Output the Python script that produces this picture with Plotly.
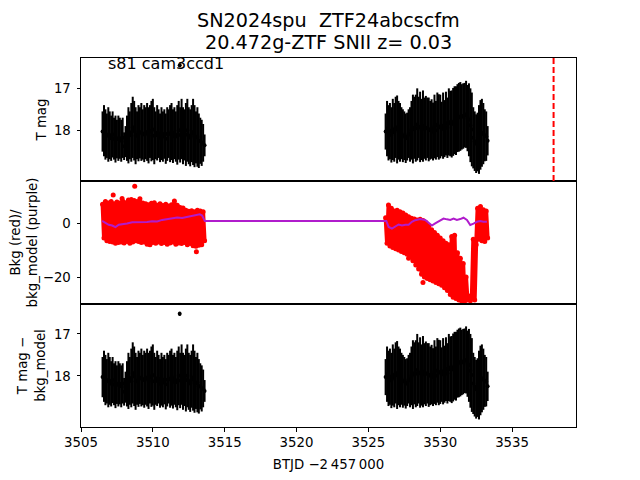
import plotly.graph_objects as go
from plotly.subplots import make_subplots

# ---------------- data ----------------
# cadence times, segment 1 and segment 2 (BTJD - 2457000)
t1 = [3506.5, 3506.6, 3506.7, 3506.8, 3506.9, 3507.0, 3507.1, 3507.2, 3507.3, 3507.4,
      3507.5, 3507.6, 3507.7, 3507.8, 3507.9, 3508.0, 3508.1, 3508.2, 3508.3, 3508.4,
      3508.5, 3508.6, 3508.7, 3508.8, 3508.9, 3509.0, 3509.1, 3509.2, 3509.3, 3509.4,
      3509.5, 3509.6, 3509.7, 3509.8, 3509.9, 3510.0, 3510.1, 3510.2, 3510.3, 3510.4,
      3510.5, 3510.6, 3510.7, 3510.8, 3510.9, 3511.0, 3511.1, 3511.2, 3511.3, 3511.4,
      3511.5, 3511.6, 3511.7, 3511.8, 3511.9, 3512.0, 3512.1, 3512.2, 3512.3, 3512.4,
      3512.5, 3512.6, 3512.7, 3512.8, 3512.9, 3513.0, 3513.1, 3513.2, 3513.3, 3513.4,
      3513.5, 3513.6]
t2 = [3526.2, 3526.3, 3526.4, 3526.5, 3526.6, 3526.7, 3526.8, 3526.9, 3527.0, 3527.1,
      3527.2, 3527.3, 3527.4, 3527.5, 3527.6, 3527.7, 3527.8, 3527.9, 3528.0, 3528.1,
      3528.2, 3528.3, 3528.4, 3528.5, 3528.6, 3528.7, 3528.8, 3528.9, 3529.0, 3529.1,
      3529.2, 3529.3, 3529.4, 3529.5, 3529.6, 3529.7, 3529.8, 3529.9, 3530.0, 3530.1,
      3530.2, 3530.3, 3530.4, 3530.5, 3530.6, 3530.7, 3530.8, 3530.9, 3531.0, 3531.1,
      3531.2, 3531.3, 3531.4, 3531.5, 3531.6, 3531.7, 3531.8, 3531.9, 3532.0, 3532.1,
      3532.2, 3532.3, 3532.4, 3532.5, 3532.6, 3532.7, 3532.8, 3532.9, 3533.0, 3533.1,
      3533.2, 3533.3]

# TESS magnitude and its error
tmag1 = [18.03, 18.01, 18.10, 18.13, 18.10, 18.12, 18.19, 18.10, 18.20, 18.21,
         18.21, 18.19, 18.19, 18.25, 18.18, 18.38, 18.27, 18.19, 18.12, 18.12,
         18.05, 17.93, 18.01, 18.13, 18.12, 18.07, 18.06, 18.04, 18.10, 18.08,
         18.07, 18.04, 18.12, 18.03, 18.02, 17.98, 18.13, 18.12, 18.06, 18.08,
         18.18, 18.08, 18.15, 18.09, 18.20, 18.09, 18.08, 18.08, 18.03, 18.14,
         18.07, 18.15, 18.11, 18.00, 18.11, 17.97, 18.13, 18.11, 18.10, 18.00,
         18.13, 18.18, 18.08, 18.04, 18.14, 18.17, 18.16, 18.25, 18.25, 18.30,
         18.30, 18.36]
terr1 = [0.48, 0.61, 0.60, 0.53, 0.65, 0.57, 0.54, 0.55, 0.50, 0.56,
         0.46, 0.54, 0.49, 0.50, 0.48, 0.33, 0.37, 0.54, 0.67, 0.57,
         0.70, 0.73, 0.71, 0.68, 0.57, 0.67, 0.61, 0.69, 0.60, 0.68,
         0.62, 0.69, 0.67, 0.63, 0.72, 0.73, 0.68, 0.57, 0.66, 0.58,
         0.58, 0.63, 0.60, 0.59, 0.60, 0.64, 0.58, 0.68, 0.68, 0.64,
         0.62, 0.60, 0.71, 0.70, 0.66, 0.72, 0.68, 0.61, 0.75, 0.75,
         0.68, 0.68, 0.68, 0.79, 0.74, 0.62, 0.71, 0.65, 0.55, 0.55,
         0.45, 0.26]
tmag2 = [18.03, 17.96, 18.06, 18.02, 18.11, 17.98, 18.05, 17.93, 17.98, 18.00,
         18.05, 18.07, 18.13, 18.13, 18.19, 18.15, 18.08, 18.10, 18.00, 17.97,
         17.94, 17.95, 17.86, 17.93, 17.92, 17.98, 17.90, 17.95, 17.95, 17.94,
         17.98, 18.00, 17.97, 18.03, 17.91, 18.00, 17.87, 17.92, 17.91, 17.97,
         17.89, 17.96, 17.84, 17.94, 17.80, 17.84, 17.85, 17.80, 17.76, 17.77,
         17.71, 17.69, 17.67, 17.68, 17.66, 17.64, 17.62, 17.71, 17.75, 17.88,
         17.98, 18.18, 18.26, 18.32, 18.28, 18.22, 18.11, 18.06, 18.08, 18.12,
         18.14, 18.25]
terr2 = [0.43, 0.66, 0.66, 0.67, 0.66, 0.73, 0.70, 0.73, 0.81, 0.70,
         0.70, 0.62, 0.63, 0.58, 0.59, 0.57, 0.58, 0.65, 0.70, 0.82,
         0.74, 0.80, 0.86, 0.73, 0.84, 0.73, 0.85, 0.73, 0.77, 0.72,
         0.76, 0.70, 0.71, 0.69, 0.76, 0.70, 0.77, 0.78, 0.76, 0.65,
         0.79, 0.68, 0.76, 0.72, 0.80, 0.78, 0.80, 0.81, 0.81, 0.82,
         0.81, 0.82, 0.82, 0.78, 0.78, 0.77, 0.80, 0.79, 0.87, 0.88,
         0.88, 0.73, 0.71, 0.70, 0.70, 0.82, 0.83, 0.81, 0.73, 0.62,
         0.59, 0.35]
# isolated bright point
tmag_out_t = [3511.87]
tmag_out = [16.45]
tmag_sub_out = [16.52]
tmag_out_err = [0.05]

# background flux (red)
bkg1 = [7.0, -5.5, 8.0, -6.5, 7.5, -6.8, 8.0, -7.0, 7.2, -7.5,
        7.8, -7.2, 7.5, -7.0, 8.2, -7.4, 7.6, -6.8, 8.6, -7.5,
        8.8, -7.0, 8.4, -6.5, 8.0, -6.8, 9.0, -7.2, 7.5, -7.0,
        7.2, -7.8, 6.8, -8.0, 7.4, -7.2, 7.6, -7.5, 6.6, -7.0,
        7.2, -7.6, 6.5, -7.2, 7.0, -7.8, 6.4, -7.4, 6.8, -7.0,
        8.2, -7.8, 6.6, -7.4, 5.8, -7.6, 5.6, -7.2, 4.8, -8.0,
        4.4, -7.6, 4.6, -8.4, 4.2, -8.6, 4.8, -8.2, 4.5, -8.0,
        4.2, -6.5]
bkg2 = [2.0, -7.5, 6.7, -8.5, 5.5, -9.0, 4.5, -9.5, 4.8, -10.0,
        4.2, -10.5, 3.8, -11.0, 3.0, -11.5, 2.4, -12.5, 1.8, -14.0,
        1.5, -15.5, 1.2, -17.0, 1.4, -19.0, 1.0, -20.0, 0.2, -20.5,
        -1.0, -21.0, -2.5, -21.5, -3.5, -22.0, -4.5, -22.5, -5.5, -23.0,
        -6.5, -24.0, -7.5, -25.0, -8.0, -26.5, -5.0, -27.5, -4.5, -28.0,
        -11.0, -28.5, -13.0, -29.0, -15.0, -29.0, -20.0, -28.5, -27.0, -28.8,
        -27.5, -6.0, -28.5, -8.0, 5.5, -6.0, 6.2, -6.5, 5.0, -6.8,
        4.5, -5.5]
bkg_out_t = [3507.24, 3507.86, 3508.74, 3513.03, 3527.80, 3528.80]
bkg_out = [10.4, 9.1, 13.7, -10.6, -13.0, -22.0]

# background model (purple)
bkgm_t = [3506.47, 3506.70, 3506.93, 3507.17, 3507.40, 3507.63, 3507.86, 3508.21, 3508.56,
          3508.91, 3509.26, 3509.60, 3509.95, 3510.30, 3510.65, 3511.00, 3511.34, 3511.69,
          3512.04, 3512.38, 3512.73, 3513.08, 3513.26, 3513.43, 3513.54, 3513.62,
          3526.25, 3526.41, 3526.64, 3526.87, 3527.10, 3527.34, 3527.57, 3527.80, 3528.03,
          3528.26, 3528.61, 3528.96, 3529.19, 3529.42, 3529.65, 3530.00, 3530.23, 3530.47,
          3530.70, 3530.93, 3531.16, 3531.39, 3531.62, 3531.86, 3532.09, 3532.32, 3532.55,
          3532.78, 3533.01, 3533.25]
bkgm = [0.8, 0.2, -0.6, -0.9, -1.5, -0.6, -0.3, -0.1, 0.3,
        0.3, 0.5, 0.4, 0.7, 0.6, 1.2, 1.5, 1.9, 2.1,
        1.9, 2.3, 2.6, 3.0, 3.3, 2.8, 1.5, 0.75,
        0.75, -1.4, -2.0, -1.4, -0.5, -0.9, -0.6, -0.6, 0.5,
        1.1, 1.5, 1.2, 0.2, -0.9, -0.1, 1.1, 1.7, 1.4,
        1.2, 1.7, 1.2, 1.5, 2.0, 1.2, -0.7, -0.2, 0.5,
        0.8, 0.5, 0.5]

t_marker = 3537.89  # red dashed reference time

x_ticks = [3505, 3510, 3515, 3520, 3525, 3530, 3535]
mag_ticks = [17, 18]
bkg_ticks = [0, -20]

title_lines = ["SN2024spu\u00a0 ZTF24abcscfm", "20.472g-ZTF SNII z= 0.03"]
label_text = "s81 cam3ccd1"

# ---------------- figure ----------------
FONT = "DejaVu Sans"
fig = make_subplots(rows=3, cols=1, shared_xaxes=True, vertical_spacing=0)


def mag_traces(row, tt, mm, ee):
    fig.add_trace(go.Scatter(
        x=tt, y=mm, mode="markers",
        marker=dict(color="black", size=4),
        error_y=dict(type="data", array=ee, visible=True, color="black",
                     thickness=2, width=0),
        showlegend=False, hoverinfo="skip"), row=row, col=1)


for row in (1, 3):
    mag_traces(row, t1, tmag1, terr1)
    mag_traces(row, t2, tmag2, terr2)
mag_traces(1, tmag_out_t, tmag_out, tmag_out_err)
mag_traces(3, tmag_out_t, tmag_sub_out, tmag_out_err)

for tt, bb in ((t1, bkg1), (t2, bkg2)):
    fig.add_trace(go.Scatter(
        x=tt, y=bb, mode="lines+markers",
        line=dict(color="red", width=4, simplify=False),
        marker=dict(color="red", size=5),
        showlegend=False, hoverinfo="skip"), row=2, col=1)
fig.add_trace(go.Scatter(
    x=bkg_out_t, y=bkg_out, mode="markers",
    marker=dict(color="red", size=5), showlegend=False), row=2, col=1)
fig.add_trace(go.Scatter(
    x=bkgm_t, y=bkgm, mode="lines",
    line=dict(color="#b01ccc", width=2), showlegend=False), row=2, col=1)

fig.add_vline(x=t_marker, line=dict(color="red", width=2, dash="6px,3px"), row=1, col=1)

axis_common = dict(showline=True, mirror=True, linecolor="black", linewidth=1,
                   showgrid=False, zeroline=False, ticks="outside", ticklen=3.5,
                   tickwidth=1, tickcolor="black", automargin=False,
                   tickfont=dict(family=FONT, size=13.3, color="black"))
xr = [3505.0, 3539.45]
fig.update_xaxes(range=xr, **axis_common)
fig.update_xaxes(ticks="", showticklabels=False, row=1, col=1)
fig.update_xaxes(ticks="", showticklabels=False, row=2, col=1)
fig.update_xaxes(tickvals=x_ticks, row=3, col=1,
                 title=dict(text="BTJD \u22122\u2009457\u2009000", standoff=10,
                            font=dict(family=FONT, size=13.3, color="black")))

ytitle_font = dict(family=FONT, size=13.3, color="black")
fig.update_yaxes(ticklabelstandoff=3, **axis_common)
fig.update_yaxes(range=[19.21, 16.276], tickvals=mag_ticks, row=1, col=1,
                 title=dict(text="T mag", standoff=4, font=ytitle_font))
fig.update_yaxes(range=[-30.0, 15.63], tickvals=bkg_ticks, row=2, col=1,
                 title=dict(text="Bkg (red)/<br>bkg_model (purple)", standoff=3, font=ytitle_font))
fig.update_yaxes(range=[19.22, 16.286], tickvals=mag_ticks, row=3, col=1,
                 title=dict(text="T mag \u2212<br>bkg_model", standoff=5, font=ytitle_font))

fig.add_annotation(text=label_text, xref="x domain", yref="y domain", x=0.05, y=0.86,
                   xanchor="left", yanchor="bottom", showarrow=False,
                   font=dict(family=FONT, size=16, color="black"))

title_font = dict(family=FONT, size=19.2, color="black")
for line, shift in zip(title_lines, (23.5, 1.5)):
    fig.add_annotation(text=line, xref="paper", yref="paper", x=0.5, y=1.0,
                       xanchor="center", yanchor="bottom", yshift=shift,
                       showarrow=False, font=title_font)

# the page body adds an 8 px offset, so the figure is 8 px smaller and margins shifted
fig.update_layout(
    width=632, height=472,
    margin=dict(l=72.5, r=64, t=49.6, b=52.8, autoexpand=False),
    paper_bgcolor="white", plot_bgcolor="white",
    showlegend=False,
)

fig.write_html("out.html")
